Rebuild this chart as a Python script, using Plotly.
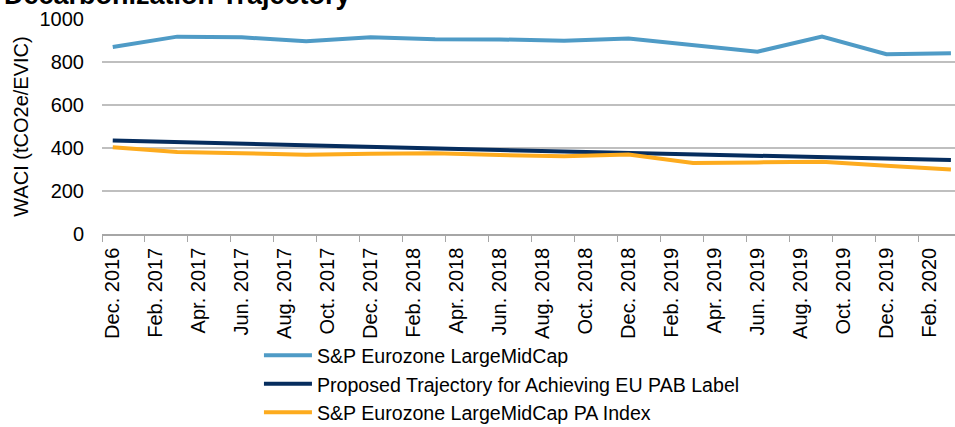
import pandas as pd
import plotly.graph_objects as go

# Quarterly observation dates
dates = ["2016-12", "2017-03", "2017-06", "2017-09", "2017-12", "2018-03", "2018-06",
         "2018-09", "2018-12", "2019-03", "2019-06", "2019-09", "2019-12", "2020-03"]

eurozone = [870, 918, 915, 897, 915, 906, 905, 899, 909, 877, 848, 918, 836, 841]
trajectory = [435, 427, 420, 412, 405, 398, 391, 384, 377, 370, 363, 357, 350, 344]
pa_index = [403, 381, 376, 369, 373, 376, 367, 362, 370, 330, 333, 336, 318, 300]

tick_labels = ["Dec. 2016", "Feb. 2017", "Apr. 2017", "Jun. 2017", "Aug. 2017", "Oct. 2017",
               "Dec. 2017", "Feb. 2018", "Apr. 2018", "Jun. 2018", "Aug. 2018", "Oct. 2018",
               "Dec. 2018", "Feb. 2019", "Apr. 2019", "Jun. 2019", "Aug. 2019", "Oct. 2019",
               "Dec. 2019", "Feb. 2020"]

series_names = ["S&P Eurozone LargeMidCap",
                "Proposed Trajectory for Achieving EU PAB Label",
                "S&P Eurozone LargeMidCap PA Index"]

start = pd.Period("2016-12", freq="M")
x_idx = [(pd.Period(d, freq="M") - start).n for d in dates]
tick_idx = [(pd.Period(pd.to_datetime(t.replace(".", ""), format="%b %Y"), freq="M") - start).n
            for t in tick_labels]
boundaries = [i - 0.5 for i in tick_idx] + [tick_idx[-1] + 1.5]

FONT = "Liberation Sans, Arial, sans-serif"
colors = ["#4f9bc6", "#062d5e", "#fdab1e"]

fig = go.Figure()
for name, vals, c in zip(series_names, [eurozone, trajectory, pa_index], colors):
    fig.add_trace(go.Scatter(x=x_idx, y=vals, mode="lines", name=name,
                             line=dict(color=c, width=4)))

fig.update_layout(
    width=955, height=427,
    margin=dict(l=101.7, r=0, t=18.5, b=193, autoexpand=False),
    paper_bgcolor="white", plot_bgcolor="white",
    font=dict(family=FONT, size=20, color="black"),
    showlegend=True,
    legend=dict(x=0.184, y=-0.475, xanchor="left", yanchor="top",
                font=dict(size=19.6), tracegroupgap=0, bgcolor="rgba(0,0,0,0)",
                itemwidth=48),
    annotations=[dict(text="<b>Decarbonization Trajectory</b>", xref="paper", yref="paper",
                      x=-0.117, y=1.0, xanchor="left", yanchor="bottom", yshift=7,
                      showarrow=False, font=dict(size=27, family=FONT))],
)

fig.update_xaxes(
    range=[-0.5, 39.19],
    tickmode="array", tickvals=tick_idx, ticktext=tick_labels,
    tickangle=-90, ticks="outside", ticklen=4, tickcolor="rgba(0,0,0,0)",
    showgrid=False, zeroline=False,
    showline=True, linecolor="#a6a6a6", linewidth=1.5,
    tickfont=dict(size=20),
    minor=dict(tickmode="array", tickvals=boundaries, ticks="outside", ticklen=6,
               tickcolor="#a6a6a6", tickwidth=1, showgrid=False),
)
fig.update_yaxes(
    range=[0, 1000], tickmode="linear", tick0=0, dtick=200,
    showgrid=True, gridcolor="#bfbfbf", gridwidth=1.5,
    zeroline=False, showline=False, ticks="",
    ticklabelstandoff=17,
    tickfont=dict(size=20),
    title=dict(text="WACI (tCO2e/EVIC)", font=dict(size=20), standoff=5),
)

fig.write_html("out.html", config={"displayModeBar": False},
               post_script="document.body.style.margin='0';")
